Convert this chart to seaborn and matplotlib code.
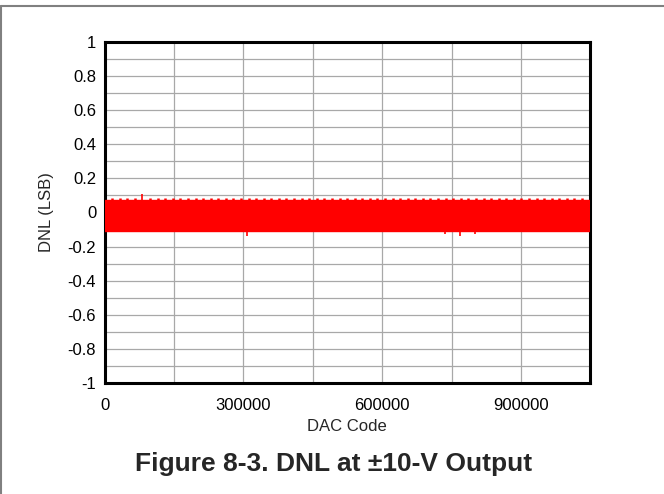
import numpy as np
import pandas as pd
import matplotlib
matplotlib.use("Agg")
import matplotlib.pyplot as plt
from matplotlib.lines import Line2D
from matplotlib.ticker import MultipleLocator
import seaborn as sns

# ---------------------------------------------------------------------------
# Data (20-bit DAC, DNL in LSB)
# ---------------------------------------------------------------------------
band_code = [0, 1048575]
band_hi = [0.073, 0.073]
band_lo = [-0.11, -0.11]

# small periodic bumps above the band (major carries)
tooth_codes = [
    16384, 32768, 49152, 65536, 98304, 114688, 131072, 147456, 163840,
    180224, 196608, 212992, 229376, 245760, 262144, 278528, 294912, 311296,
    327680, 344064, 360448, 376832, 393216, 409600, 425984, 442368, 458752,
    475136, 491520, 507904, 524288, 540672, 557056, 573440, 589824, 606208,
    622592, 638976, 655360, 671744, 688128, 704512, 720896, 737280, 753664,
    770048, 786432, 802816, 819200, 835584, 851968, 868352, 884736, 901120,
    917504, 933888, 950272, 966656, 983040, 999424, 1015808, 1032192,
]
tooth_top = 0.086

# isolated spikes
spike_codes = [81000, 308000, 736000, 768000, 800000]
spike_vals = [0.11, -0.135, -0.125, -0.14, -0.125]

x_ticks = [0, 300000, 600000, 900000]
y_ticks = [-1, -0.8, -0.6, -0.4, -0.2, 0, 0.2, 0.4, 0.6, 0.8, 1]

RED = "#ff0000"

sns.set_style("white")
plt.rcParams["font.family"] = ["Liberation Sans", "DejaVu Sans"]

fig = plt.figure(figsize=(6.64, 4.94), dpi=100)
ax = fig.add_axes([0.1575, 0.2247, 0.7305, 0.6903])

band = pd.DataFrame({"code": band_code, "hi": band_hi, "lo": band_lo})
ax.fill_between(band["code"], band["lo"], band["hi"], color=RED, lw=0, zorder=3)
sns.lineplot(data=band, x="code", y="hi", color=RED, lw=1, ax=ax, zorder=3)
sns.lineplot(data=band, x="code", y="lo", color=RED, lw=1, ax=ax, zorder=3)

ax.vlines(tooth_codes, 0, tooth_top, color=RED, lw=1.8, zorder=3)
ax.vlines(spike_codes, 0, spike_vals, color=RED, lw=1.2, zorder=3)

ax.set_xlim(0, 1048576)
ax.set_ylim(-1, 1)
ax.set_xticks(x_ticks)
ax.set_xticklabels([str(t) for t in x_ticks])
ax.set_yticks(y_ticks)
ax.set_yticklabels([f"{t:g}" for t in y_ticks])
ax.xaxis.set_minor_locator(MultipleLocator(150000))
ax.yaxis.set_minor_locator(MultipleLocator(0.1))

ax.grid(True, which="both", color="#a8a8a8", lw=0.9, zorder=0)
ax.set_axisbelow(True)
ax.tick_params(which="both", length=0, labelsize=12, colors="black")
ax.tick_params(axis="x", pad=11)
ax.tick_params(axis="y", pad=6)
for s in ax.spines.values():
    s.set_visible(True)
    s.set_color("black")
    s.set_linewidth(2.2)

ax.set_xlabel("DAC Code", fontsize=12, labelpad=4)
ax.set_ylabel("DNL (LSB)", fontsize=12, labelpad=10)

fig.text(0.502, 0.06, "Figure 8-3. DNL at \u00b110-V Output",
         ha="center", va="center", fontsize=19, fontweight="bold")

# page frame (top and left edges visible)
fig.add_artist(Line2D([0.001, 1.0], [0.988, 0.988], transform=fig.transFigure,
                      color="#808080", lw=1.5))
fig.add_artist(Line2D([0.001, 0.001], [0.0, 0.988], transform=fig.transFigure,
                      color="#808080", lw=1.5))

fig.savefig("out.png", dpi=100)
